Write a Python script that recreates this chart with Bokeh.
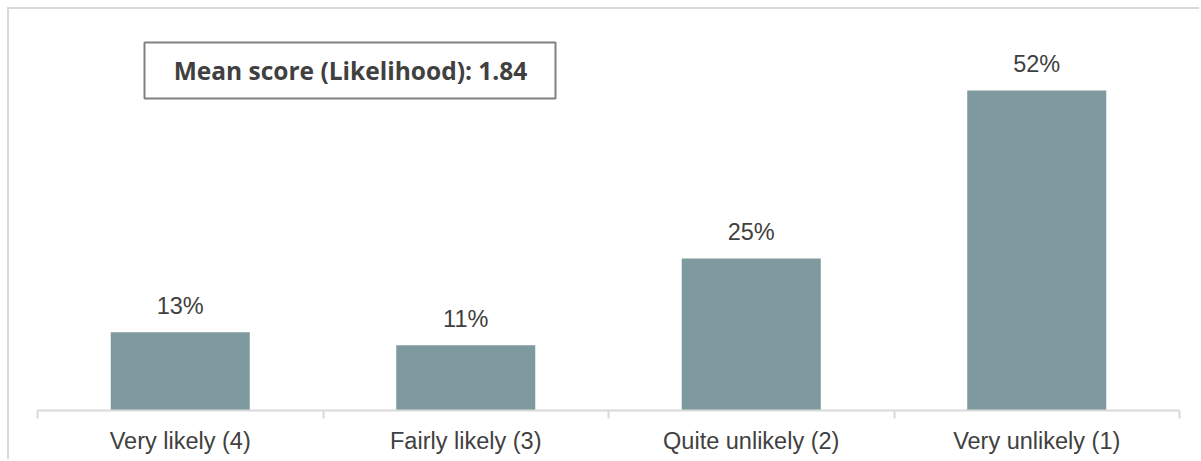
from bokeh.plotting import figure
from bokeh.models import (ColumnDataSource, Range1d, LinearAxis, FixedTicker,
                          BoxAnnotation, Label)
from bokeh.core.properties import value
from bokeh.embed import file_html
from bokeh.resources import INLINE

# ---- data ----
categories = ["Very likely (4)", "Fairly likely (3)", "Quite unlikely (2)", "Very unlikely (1)"]
shares = [12.7, 10.6, 24.7, 52.0]          # percent of respondents
mean_label = "Mean score (Likelihood): 1.84"

OFF = 9                      # outer chart border offset (page px)
W, H = 1201 - OFF, 461 - OFF
BAR = "#7F9A9E"
TXT = "#404040"
LINE = "#d9d9d9"

positions = [i + 0.5 for i in range(len(categories))]
labels = [f"{round(v):d}%" for v in shares]
src = ColumnDataSource(dict(x=positions, top=shares, label=labels))

p = figure(width=W, height=H, output_backend="svg", toolbar_location=None,
           x_range=Range1d(0, len(categories)), y_range=Range1d(0, 65.16),
           x_axis_type=None, y_axis_type=None,
           min_border_left=37 - OFF, min_border_right=22, min_border_top=0, min_border_bottom=51)
p.outline_line_color = None
p.xgrid.visible = False
p.ygrid.visible = False
p.background_fill_color = "white"
p.border_fill_color = "white"
p.styles = {"margin-left": f"{OFF - 2}px", "margin-top": f"{OFF - 2}px",
            "border-left": f"2px solid {LINE}", "border-top": f"2px solid {LINE}"}

p.vbar(x="x", top="top", width=0.487, bottom=0, source=src, fill_color=BAR, line_color=None)

p.text(x="x", y="top", text="label", source=src, text_align="center", text_baseline="alphabetic",
       y_offset=-26, text_font=value("Liberation Sans"), text_font_size="23.5px", text_color=TXT)

ax = LinearAxis(ticker=FixedTicker(ticks=positions, minor_ticks=list(range(len(categories) + 1))))
ax.major_label_overrides = {pos: cat for pos, cat in zip(positions, categories)}
ax.major_tick_line_color = None
ax.major_tick_out = 0
ax.major_tick_in = 0
ax.minor_tick_line_color = LINE
ax.minor_tick_line_width = 2
ax.minor_tick_out = 8
ax.minor_tick_in = 0
ax.axis_line_color = LINE
ax.axis_line_width = 2
ax.major_label_standoff = 9
ax.major_label_text_font = "Liberation Sans"
ax.major_label_text_font_size = "23.5px"
ax.major_label_text_color = TXT
p.add_layout(ax, "below")

# mean score box (canvas units, y measured from top)
p.add_layout(BoxAnnotation(left=142 - OFF, right=553 - OFF, top=40 - OFF, bottom=96 - OFF,
                           left_units="canvas", right_units="canvas",
                           top_units="canvas", bottom_units="canvas",
                           fill_color="white", fill_alpha=1,
                           line_color="#808080", line_alpha=1, line_width=2))
p.add_layout(Label(x=348 - OFF, y=68 - OFF, x_units="canvas", y_units="canvas", text=mean_label,
                   text_align="center", text_baseline="middle", text_font="Open Sans",
                   text_font_style="bold", text_font_size="24.5px", text_color=TXT))

open("out.html", "w").write(file_html(p, INLINE))
